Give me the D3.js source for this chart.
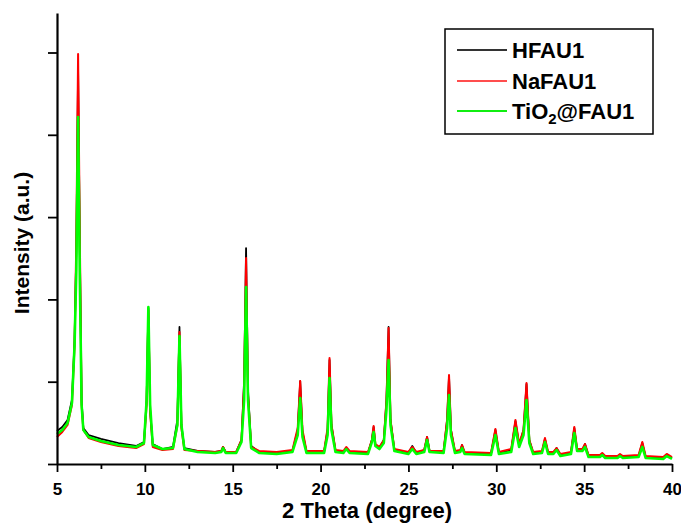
<!DOCTYPE html>
<html>
<head>
<meta charset="utf-8">
<script src="https://cdn.jsdelivr.net/npm/d3@7"></script>
<style>
  html, body { margin: 0; padding: 0; background: #fff; }
  svg { display: block; font-family: "Liberation Sans", Arial, sans-serif; font-weight: bold; }
</style>
</head>
<body>
<svg id="chart" width="681" height="524"></svg>
<script>
// XRD patterns of the three FAU samples: diffraction angle (2θ, degree)
const twoTheta = [
  5.0, 5.3, 5.6, 5.85, 6.0, 6.1, 6.2, 6.3, 6.4, 6.5, 6.8, 7.5, 8.5, 9.5,
  9.95, 10.1, 10.2, 10.3, 10.45, 11.0, 11.6, 11.85, 11.97, 12.08, 12.25, 13.0,
  14.0, 14.35, 14.45, 14.6, 15.2, 15.5, 15.65, 15.76, 15.87, 16.05, 16.5, 17.5,
  18.4, 18.7, 18.84, 18.97, 19.2, 20.2, 20.4, 20.51, 20.62, 20.85, 21.3, 21.46, 21.65,
  22.7, 22.92, 23.02, 23.12, 23.35, 23.6, 23.75, 23.87, 23.98, 24.2,
  25.0, 25.22, 25.45, 25.9, 26.06, 26.2, 27.0, 27.2, 27.31, 27.42, 27.65, 27.95, 28.05, 28.2,
  29.7, 29.95, 30.15, 30.85, 31.09, 31.3, 31.55, 31.72, 31.88, 32.1,
  32.6, 32.77, 32.95, 33.25, 33.43, 33.65, 34.25, 34.44, 34.6, 34.9, 35.05, 35.25,
  35.9, 36.03, 36.2, 36.9, 37.04, 37.2, 38.1, 38.31, 38.5, 39.5, 39.7, 40.0
];

// Intensities (counts) for each sample, one value per angle above
const hfau1 = [
  401, 450, 535, 778, 1507, 2600, 4787, 2600, 778, 437, 352, 304, 255, 219,
  267, 778, 1895, 656, 243, 182, 207, 535, 1665, 474, 194, 158,
  146, 158, 207, 146, 146, 292, 1021, 2624, 899, 219, 146, 134,
  158, 413, 1008, 389, 146, 146, 413, 1264, 474, 158, 146, 194, 146,
  134, 292, 450, 231, 194, 292, 778, 1665, 535, 170,
  134, 219, 134, 170, 328, 158, 146, 535, 1069, 413, 146, 158, 231, 134,
  122, 413, 134, 170, 522, 231, 413, 972, 292, 134,
  146, 304, 134, 134, 194, 109, 134, 437, 170, 170, 243, 97,
  97, 122, 85, 85, 109, 85, 97, 255, 85, 73, 109, 73
];
const nafau1 = [
  328, 389, 474, 717, 1446, 2722, 4982, 2722, 717, 413, 316, 267, 219, 194,
  243, 717, 1871, 632, 207, 170, 182, 474, 1604, 437, 170, 158,
  146, 158, 207, 146, 146, 292, 960, 2503, 838, 207, 158, 146,
  170, 437, 1008, 413, 158, 158, 437, 1288, 474, 170, 158, 207, 158,
  146, 292, 462, 243, 207, 292, 778, 1652, 535, 182,
  146, 207, 146, 170, 328, 158, 158, 535, 1081, 413, 158, 170, 231, 146,
  134, 425, 146, 182, 535, 243, 413, 984, 292, 146,
  158, 316, 146, 146, 194, 122, 146, 450, 182, 182, 243, 109,
  109, 134, 97, 97, 122, 97, 109, 267, 97, 85, 122, 85
];
const tio2fau1 = [
  365, 413, 498, 741, 1446, 2357, 4216, 2236, 717, 413, 328, 279, 231, 207,
  255, 778, 1908, 717, 231, 182, 194, 474, 1555, 474, 182, 146,
  134, 146, 194, 134, 134, 267, 778, 2151, 778, 194, 134, 122,
  146, 352, 802, 328, 134, 134, 352, 1045, 413, 146, 134, 182, 134,
  122, 267, 389, 219, 182, 255, 656, 1264, 474, 158,
  122, 182, 122, 146, 292, 146, 134, 437, 838, 352, 134, 146, 194, 122,
  109, 352, 122, 146, 437, 207, 352, 778, 255, 122,
  134, 267, 122, 122, 170, 97, 122, 377, 158, 158, 207, 85,
  85, 109, 73, 73, 97, 73, 85, 207, 73, 61, 97, 61
];

const seriesNames = ["HFAU1", "NaFAU1", "TiO2@FAU1"];
const seriesColors = ["#000000", "#ff0000", "#00ff00"];
const legendColors = ["#333333", "#ff4d4d", "#11ee11"];
const seriesWidths = [1.8, 2.0, 2.6];

const xMajorTicks = [5, 10, 15, 20, 25, 30, 35, 40];
const xMinorTicks = [7.5, 12.5, 17.5, 22.5, 27.5, 32.5, 37.5];
const yTicks = [0, 1000, 2000, 3000, 4000, 5000];

const svg = d3.select("#chart");
const plotLeft = 57, plotRight = 672, plotBottom = 464, plotTop = 13;

const x = d3.scaleLinear().domain([5, 40]).range([plotLeft, plotRight]);
const y = d3.scaleLinear().domain([0, 5480]).range([plotBottom, plotTop]);

// patterns, drawn black → red → green so the green trace sits on top
const allSeries = [hfau1, nafau1, tio2fau1];
const line = d3.line()
  .x((d, i) => x(twoTheta[i]))
  .y(d => y(d));

svg.append("g")
  .selectAll("path")
  .data(allSeries)
  .join("path")
  .attr("d", d => line(d))
  .attr("fill", "none")
  .attr("stroke", (d, i) => seriesColors[i])
  .attr("stroke-width", (d, i) => seriesWidths[i])
  .attr("stroke-linejoin", "round");

// x axis: labelled major ticks plus short minor ticks
const xAxis = d3.axisBottom(x)
  .tickValues(xMajorTicks)
  .tickFormat(d3.format("d"))
  .tickSize(8)
  .tickSizeOuter(0);
const gx = svg.append("g")
  .attr("transform", `translate(0,${plotBottom})`)
  .call(xAxis);
gx.select(".domain").attr("stroke", "#000").attr("stroke-width", 2);
gx.selectAll(".tick line").attr("stroke", "#000").attr("stroke-width", 1.8);
gx.selectAll(".tick text")
  .attr("y", 19)
  .attr("dy", "0.71em")
  .attr("fill", "#000")
  .style("font-size", "17px")
  .style("font-weight", "bold")
  .style("font-family", "'Liberation Sans', Arial, sans-serif");

const gxMinor = svg.append("g")
  .attr("transform", `translate(0,${plotBottom})`)
  .call(d3.axisBottom(x).tickValues(xMinorTicks).tickFormat("").tickSize(5).tickSizeOuter(0));
gxMinor.select(".domain").remove();
gxMinor.selectAll(".tick line").attr("stroke", "#000").attr("stroke-width", 1.8);

// y axis: unlabelled ticks only
const yAxis = d3.axisLeft(y)
  .tickValues(yTicks)
  .tickFormat("")
  .tickSize(9)
  .tickSizeOuter(0);
const gy = svg.append("g")
  .attr("transform", `translate(${plotLeft},0)`)
  .call(yAxis);
gy.select(".domain").attr("stroke", "#000").attr("stroke-width", 2.2);
gy.selectAll(".tick line").attr("stroke", "#000").attr("stroke-width", 1.8);

// axis titles
svg.append("text")
  .attr("x", 367)
  .attr("y", 518)
  .attr("text-anchor", "middle")
  .style("font-size", "22px")
  .text("2 Theta (degree)");

svg.append("text")
  .attr("transform", "translate(29,243) rotate(-90)")
  .attr("text-anchor", "middle")
  .style("font-size", "21px")
  .text("Intensity (a.u.)");

// legend
const legend = svg.append("g");
legend.append("rect")
  .attr("x", 445).attr("y", 29)
  .attr("width", 208).attr("height", 105)
  .attr("fill", "#fff")
  .attr("stroke", "#000")
  .attr("stroke-width", 1.5);

const rowY = [50, 81, 111];
seriesNames.forEach((name, i) => {
  legend.append("line")
    .attr("x1", 457).attr("x2", 507)
    .attr("y1", rowY[i]).attr("y2", rowY[i])
    .attr("stroke", legendColors[i])
    .attr("stroke-width", 1.8);
  const t = legend.append("text")
    .attr("x", 512)
    .attr("y", rowY[i] + 8)
    .style("font-size", "22px");
  if (name === "TiO2@FAU1") {
    t.append("tspan").text("TiO");
    t.append("tspan").attr("dy", 5).style("font-size", "15px").text("2");
    t.append("tspan").attr("dy", -5).text("@FAU1");
  } else {
    t.text(name);
  }
});
</script>
</body>
</html>
